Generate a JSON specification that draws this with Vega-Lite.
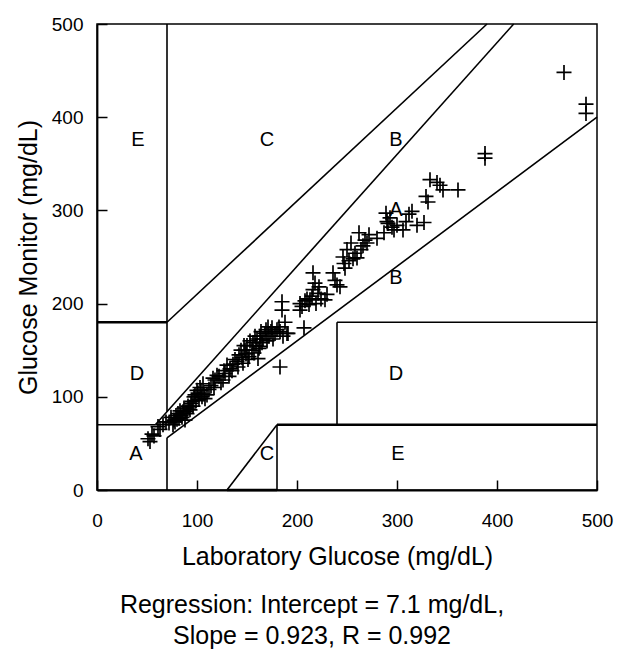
{
  "$schema": "https://vega.github.io/schema/vega-lite/v6.json",
  "width": 500,
  "height": 466,
  "autosize": {"type": "none"},
  "padding": {"left": 97, "top": 24, "right": 21, "bottom": 162},
  "background": "white",
  "title": {
    "text": ["Regression: Intercept = 7.1 mg/dL,", "Slope = 0.923, R = 0.992"],
    "orient": "bottom",
    "anchor": "middle",
    "fontSize": 25,
    "fontWeight": "normal",
    "lineHeight": 31,
    "offset": 24,
    "dx": -35,
    "color": "black"
  },
  "config": {
    "font": "Liberation Sans",
    "view": {"stroke": "black", "strokeWidth": 1.5},
    "axis": {
      "grid": false,
      "domainColor": "black",
      "domainWidth": 1.8,
      "tickColor": "black",
      "tickWidth": 1.5,
      "tickSize": -10,
      "labelFontSize": 19,
      "labelColor": "black",
      "labelFlush": false,
      "labelOverlap": false,
      "titleFontSize": 25,
      "titleFontWeight": "normal",
      "titleColor": "black"
    },
    "axisX": {"labelPadding": 31},
    "axisY": {"labelPadding": 24}
  },
  "datasets": {
    "grid": [
      {"x": 0, "y": 70, "x2": 58.33, "y2": 70},
      {"x": 58.33, "y": 70, "x2": 416.67, "y2": 500},
      {"x": 70, "y": 56, "x2": 500, "y2": 400},
      {"x": 70, "y": 0, "x2": 70, "y2": 56},
      {"x": 70, "y": 84, "x2": 70, "y2": 500},
      {"x": 70, "y": 180, "x2": 390, "y2": 500},
      {"x": 130, "y": 0, "x2": 180, "y2": 70},
      {"x": 180, "y": 0, "x2": 180, "y2": 70},
      {"x": 240, "y": 70, "x2": 240, "y2": 180},
      {"x": 240, "y": 180, "x2": 500, "y2": 180}
    ],
    "gridBold": [
      {"x": 0, "y": 180, "x2": 70, "y2": 180},
      {"x": 180, "y": 70, "x2": 500, "y2": 70},
      {"x": 130, "y": 0, "x2": 180, "y2": 0}
    ],
    "zones": [
      {"label": "E", "x": 41, "y": 376},
      {"label": "C", "x": 170, "y": 376},
      {"label": "B", "x": 299, "y": 376},
      {"label": "A", "x": 299, "y": 300},
      {"label": "B", "x": 299, "y": 227},
      {"label": "D", "x": 40, "y": 125},
      {"label": "D", "x": 299, "y": 125},
      {"label": "A", "x": 39, "y": 39},
      {"label": "C", "x": 170, "y": 39},
      {"label": "E", "x": 301, "y": 39}
    ],
    "points": [
      {"lab": 51, "mon": 55}, {"lab": 53, "mon": 52}, {"lab": 55, "mon": 60}, {"lab": 57, "mon": 58},
      {"lab": 61, "mon": 68}, {"lab": 63, "mon": 65}, {"lab": 66, "mon": 70}, {"lab": 69, "mon": 73},
      {"lab": 72, "mon": 72}, {"lab": 74, "mon": 78}, {"lab": 76, "mon": 70}, {"lab": 77, "mon": 75},
      {"lab": 78, "mon": 73}, {"lab": 79, "mon": 80}, {"lab": 80, "mon": 76}, {"lab": 81, "mon": 82},
      {"lab": 82, "mon": 77}, {"lab": 83, "mon": 85}, {"lab": 84, "mon": 80}, {"lab": 85, "mon": 78},
      {"lab": 86, "mon": 84}, {"lab": 87, "mon": 88}, {"lab": 88, "mon": 75}, {"lab": 89, "mon": 84},
      {"lab": 90, "mon": 82}, {"lab": 91, "mon": 90}, {"lab": 92, "mon": 88}, {"lab": 93, "mon": 86},
      {"lab": 94, "mon": 93}, {"lab": 95, "mon": 95}, {"lab": 96, "mon": 90}, {"lab": 97, "mon": 100},
      {"lab": 98, "mon": 102}, {"lab": 99, "mon": 96}, {"lab": 100, "mon": 107}, {"lab": 101, "mon": 104},
      {"lab": 102, "mon": 97}, {"lab": 103, "mon": 110}, {"lab": 104, "mon": 107}, {"lab": 105, "mon": 100},
      {"lab": 106, "mon": 114}, {"lab": 107, "mon": 103}, {"lab": 108, "mon": 98}, {"lab": 110, "mon": 102},
      {"lab": 112, "mon": 108}, {"lab": 114, "mon": 112}, {"lab": 116, "mon": 120}, {"lab": 117, "mon": 110},
      {"lab": 118, "mon": 118}, {"lab": 120, "mon": 123}, {"lab": 122, "mon": 122}, {"lab": 124, "mon": 115},
      {"lab": 126, "mon": 118}, {"lab": 127, "mon": 128}, {"lab": 128, "mon": 125}, {"lab": 130, "mon": 134},
      {"lab": 132, "mon": 122}, {"lab": 133, "mon": 130}, {"lab": 135, "mon": 128}, {"lab": 136, "mon": 135},
      {"lab": 138, "mon": 140}, {"lab": 140, "mon": 138}, {"lab": 141, "mon": 132}, {"lab": 142, "mon": 145},
      {"lab": 144, "mon": 150}, {"lab": 145, "mon": 142}, {"lab": 146, "mon": 136}, {"lab": 147, "mon": 155},
      {"lab": 148, "mon": 150}, {"lab": 149, "mon": 146}, {"lab": 150, "mon": 155}, {"lab": 151, "mon": 140},
      {"lab": 152, "mon": 143}, {"lab": 153, "mon": 160}, {"lab": 155, "mon": 150}, {"lab": 156, "mon": 158},
      {"lab": 157, "mon": 147}, {"lab": 158, "mon": 165}, {"lab": 159, "mon": 155}, {"lab": 160, "mon": 162},
      {"lab": 161, "mon": 141}, {"lab": 162, "mon": 152}, {"lab": 163, "mon": 165}, {"lab": 163, "mon": 154},
      {"lab": 164, "mon": 170}, {"lab": 165, "mon": 158}, {"lab": 166, "mon": 162}, {"lab": 168, "mon": 168},
      {"lab": 169, "mon": 172}, {"lab": 170, "mon": 160}, {"lab": 171, "mon": 175}, {"lab": 172, "mon": 165},
      {"lab": 174, "mon": 170}, {"lab": 175, "mon": 174}, {"lab": 176, "mon": 162}, {"lab": 178, "mon": 168},
      {"lab": 180, "mon": 172}, {"lab": 182, "mon": 175}, {"lab": 183, "mon": 170}, {"lab": 183, "mon": 132},
      {"lab": 185, "mon": 193}, {"lab": 185, "mon": 202}, {"lab": 186, "mon": 165}, {"lab": 188, "mon": 180},
      {"lab": 190, "mon": 168}, {"lab": 191, "mon": 168},
      {"lab": 203, "mon": 200}, {"lab": 203, "mon": 193}, {"lab": 205, "mon": 197}, {"lab": 207, "mon": 174},
      {"lab": 208, "mon": 203}, {"lab": 210, "mon": 205}, {"lab": 212, "mon": 199}, {"lab": 213, "mon": 204},
      {"lab": 215, "mon": 208}, {"lab": 216, "mon": 215}, {"lab": 216, "mon": 233}, {"lab": 218, "mon": 222},
      {"lab": 219, "mon": 200}, {"lab": 221, "mon": 211}, {"lab": 222, "mon": 218}, {"lab": 224, "mon": 205},
      {"lab": 228, "mon": 204}, {"lab": 230, "mon": 210}, {"lab": 236, "mon": 233}, {"lab": 238, "mon": 225},
      {"lab": 240, "mon": 220}, {"lab": 243, "mon": 218}, {"lab": 246, "mon": 250}, {"lab": 247, "mon": 243},
      {"lab": 248, "mon": 238}, {"lab": 250, "mon": 258}, {"lab": 252, "mon": 246}, {"lab": 254, "mon": 265},
      {"lab": 256, "mon": 248}, {"lab": 258, "mon": 254}, {"lab": 260, "mon": 249}, {"lab": 262, "mon": 276},
      {"lab": 264, "mon": 258}, {"lab": 266, "mon": 262}, {"lab": 268, "mon": 268}, {"lab": 270, "mon": 265},
      {"lab": 272, "mon": 274}, {"lab": 280, "mon": 270}, {"lab": 287, "mon": 276}, {"lab": 289, "mon": 297},
      {"lab": 290, "mon": 288}, {"lab": 291, "mon": 286}, {"lab": 293, "mon": 292}, {"lab": 295, "mon": 282},
      {"lab": 297, "mon": 279}, {"lab": 300, "mon": 284}, {"lab": 306, "mon": 279}, {"lab": 309, "mon": 288},
      {"lab": 312, "mon": 296}, {"lab": 315, "mon": 299}, {"lab": 320, "mon": 284}, {"lab": 327, "mon": 287},
      {"lab": 329, "mon": 315}, {"lab": 331, "mon": 309}, {"lab": 333, "mon": 333}, {"lab": 340, "mon": 330},
      {"lab": 343, "mon": 327}, {"lab": 346, "mon": 322}, {"lab": 361, "mon": 322}, {"lab": 388, "mon": 361},
      {"lab": 388, "mon": 356}, {"lab": 467, "mon": 448}, {"lab": 489, "mon": 414}, {"lab": 489, "mon": 404}
    ]
  },
  "layer": [
    {
      "data": {"name": "grid"},
      "mark": {"type": "rule", "color": "black", "strokeWidth": 1.6},
      "encoding": {
        "x": {"field": "x", "type": "quantitative", "scale": {"domain": [0, 500], "nice": false}, "axis": {"title": "Laboratory Glucose (mg/dL)", "values": [0, 100, 200, 300, 400, 500], "titlePadding": 14, "titleX": 240}},
        "y": {"field": "y", "type": "quantitative", "scale": {"domain": [0, 500], "nice": false}, "axis": {"title": "Glucose Monitor (mg/dL)", "values": [0, 100, 200, 300, 400, 500], "titlePadding": 10}},
        "x2": {"field": "x2"},
        "y2": {"field": "y2"}
      }
    },
    {
      "data": {"name": "gridBold"},
      "mark": {"type": "rule", "color": "black", "strokeWidth": 2.6},
      "encoding": {
        "x": {"field": "x", "type": "quantitative"},
        "y": {"field": "y", "type": "quantitative"},
        "x2": {"field": "x2"},
        "y2": {"field": "y2"}
      }
    },
    {
      "data": {"name": "points"},
      "mark": {"type": "point", "shape": "M-1,0H1M0,-1V1", "size": 225, "filled": false, "stroke": "black", "strokeWidth": 1.7, "opacity": 1},
      "encoding": {
        "x": {"field": "lab", "type": "quantitative"},
        "y": {"field": "mon", "type": "quantitative"}
      }
    },
    {
      "data": {"name": "zones"},
      "mark": {"type": "text", "fontSize": 20, "color": "black", "align": "center", "baseline": "middle"},
      "encoding": {
        "x": {"field": "x", "type": "quantitative"},
        "y": {"field": "y", "type": "quantitative"},
        "text": {"field": "label"}
      }
    }
  ]
}
